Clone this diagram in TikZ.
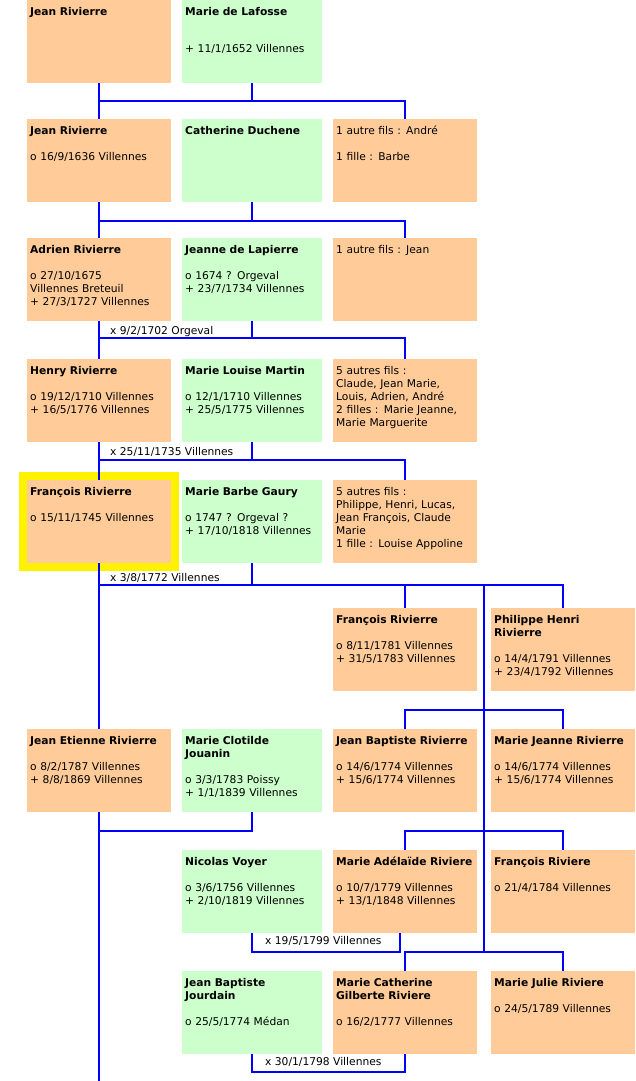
\documentclass[tikz,border=0pt]{standalone}
\usepackage{fontspec}
\setmainfont{DejaVu Sans}
\definecolor{kinc}{RGB}{255,204,153}
\definecolor{spousec}{RGB}{204,255,204}
\definecolor{linkc}{RGB}{0,0,255}

\begin{document}
\begin{tikzpicture}[x=1pt,y=-1pt,
   person/.style={anchor=north west,inner xsep=3pt,inner ysep=4pt,text width=138pt,
      text height=11pt,text depth=64pt,align=left,font=\fontsize{10.7}{13}\selectfont},
   kin/.style={person,fill=kinc},
   spouse/.style={person,fill=spousec,text width=134pt},
   link/.style={draw=linkc,line width=2.5pt},
   wed/.style={anchor=base west,inner sep=0pt,font=\fontsize{10.7}{13}\selectfont}]

   \useasboundingbox (0,0) rectangle (635,1081);

   \node[kin] (jean1) at (27,0) {\textbf{Jean Rivierre}};
   \node[spouse] (marie1) at (182,0) {\textbf{Marie de Lafosse}\\[24pt]+ 11/1/1652 Villennes};

   \node[kin] (jean2) at (27,119) {\textbf{Jean Rivierre}\\[13pt]o 16/9/1636 Villennes};
   \node[spouse] (cath2) at (182,119) {\textbf{Catherine Duchene}};
   \node[kin] (sib2) at (333,119) {1 autre fils : André\\[13pt]1 fille : Barbe};

   \node[kin] (adrien) at (27,238) {\textbf{Adrien Rivierre}\\[13pt]o 27/10/1675\\Villennes Breteuil\\+ 27/3/1727 Villennes};
   \node[spouse] (jeanne) at (182,238) {\textbf{Jeanne de Lapierre}\\[13pt]o 1674 ? Orgeval\\+ 23/7/1734 Villennes};
   \node[kin] (sib3) at (333,238) {1 autre fils : Jean};

   \node[kin] (henry) at (27,359) {\textbf{Henry Rivierre}\\[13pt]o 19/12/1710 Villennes\\+ 16/5/1776 Villennes};
   \node[spouse] (louise) at (182,359) {\textbf{Marie Louise Martin}\\[13pt]o 12/1/1710 Villennes\\+ 25/5/1775 Villennes};
   \node[kin] (sib4) at (333,359) {5 autres fils :\\Claude, Jean Marie,\\Louis, Adrien, André\\2 filles : Marie Jeanne,\\Marie Marguerite};

   \node[kin] (francois) at (27,480) {\textbf{François Rivierre}\\[13pt]o 15/11/1745 Villennes};
   \node[spouse] (barbe) at (182,480) {\textbf{Marie Barbe Gaury}\\[13pt]o 1747 ? Orgeval ?\\+ 17/10/1818 Villennes};
   \node[kin] (sib5) at (333,480) {5 autres fils :\\Philippe, Henri, Lucas,\\Jean François, Claude\\Marie\\1 fille : Louise Appoline};

   \node[kin] (francois6) at (333,608) {\textbf{François Rivierre}\\[13pt]o 8/11/1781 Villennes\\+ 31/5/1783 Villennes};
   \node[kin] (philippe) at (491,608) {\textbf{Philippe Henri}\\\textbf{Rivierre}\\[13pt]o 14/4/1791 Villennes\\+ 23/4/1792 Villennes};

   \node[kin] (etienne) at (27,729) {\textbf{Jean Etienne Rivierre}\\[13pt]o 8/2/1787 Villennes\\+ 8/8/1869 Villennes};
   \node[spouse] (clotilde) at (182,729) {\textbf{Marie Clotilde}\\\textbf{Jouanin}\\[13pt]o 3/3/1783 Poissy\\+ 1/1/1839 Villennes};
   \node[kin] (jbaptiste) at (333,729) {\textbf{Jean Baptiste Rivierre}\\[13pt]o 14/6/1774 Villennes\\+ 15/6/1774 Villennes};
   \node[kin] (mjeanne) at (491,729) {\textbf{Marie Jeanne Rivierre}\\[13pt]o 14/6/1774 Villennes\\+ 15/6/1774 Villennes};

   \node[spouse] (voyer) at (182,850) {\textbf{Nicolas Voyer}\\[13pt]o 3/6/1756 Villennes\\+ 2/10/1819 Villennes};
   \node[kin] (adelaide) at (333,850) {\textbf{Marie Adélaïde Riviere}\\[13pt]o 10/7/1779 Villennes\\+ 13/1/1848 Villennes};
   \node[kin] (francois8) at (491,850) {\textbf{François Riviere}\\[13pt]o 21/4/1784 Villennes};

   \node[spouse] (jourdain) at (182,971) {\textbf{Jean Baptiste}\\\textbf{Jourdain}\\[13pt]o 25/5/1774 Médan};
   \node[kin] (catherine) at (333,971) {\textbf{Marie Catherine}\\\textbf{Gilberte Riviere}\\[13pt]o 16/2/1777 Villennes};
   \node[kin] (julie) at (491,971) {\textbf{Marie Julie Riviere}\\[13pt]o 24/5/1789 Villennes};

   \draw[yellow,line width=8pt] ([xshift=-4pt,yshift=4pt]francois.north west) rectangle ([xshift=3.5pt,yshift=-4pt]francois.south east);

   \node[wed] (wed3) at (110,334) {x 9/2/1702 Orgeval};
   \node[wed] (wed4) at (110,455) {x 25/11/1735 Villennes};
   \node[wed] (wed5) at (110,581) {x 3/8/1772 Villennes};
   \node[wed] (wed8) at (265,944) {x 19/5/1799 Villennes};
   \node[wed] (wed9) at (265,1065) {x 30/1/1798 Villennes};

   \coordinate (fam1) at (0,101);
   \coordinate (fam2) at (0,221);
   \coordinate (fam3) at (0,338);
   \coordinate (fam4) at (0,460);
   \coordinate (fam5) at (0,585);
   \coordinate (trunk) at (484,585);
   \coordinate (sub7) at (484,710);
   \coordinate (sub8) at (484,831);
   \coordinate (sub9) at (484,952);
   \coordinate (low9) at (0,1072);
   \coordinate (foot) at (0,1081);

   \draw[link] (jean1.south) -- (jean2.north);
   \draw[link] (marie1.south) -- (marie1.south |- fam1);
   \draw[link] (jean1.south |- fam1) -- (sib2.north |- fam1) -- (sib2.north);

   \draw[link] (jean2.south) -- (adrien.north);
   \draw[link] (cath2.south) -- (cath2.south |- fam2);
   \draw[link] (jean2.south |- fam2) -- (sib3.north |- fam2) -- (sib3.north);

   \draw[link] (adrien.south) -- (henry.north);
   \draw[link] (jeanne.south) -- (jeanne.south |- fam3);
   \draw[link] (henry.north |- fam3) -- (sib4.north |- fam3) -- (sib4.north);

   \draw[link] (henry.south) -- (francois.north);
   \draw[link] (louise.south) -- (louise.south |- fam4);
   \draw[link] (henry.south |- fam4) -- (sib5.north |- fam4) -- (sib5.north);

   \draw[link] (francois.south) -- (etienne.north);
   \draw[link] (barbe.south) -- (barbe.south |- fam5);
   \draw[link] (francois.south |- fam5) -- (philippe.north |- fam5) -- (philippe.north);
   \draw[link] (francois6.north |- fam5) -- (francois6.north);
   \draw[link] (trunk) -- (sub9);
   \draw[link] (jbaptiste.north) -- (jbaptiste.north |- sub7) -- (mjeanne.north |- sub7) -- (mjeanne.north);
   \draw[link] (adelaide.north) -- (adelaide.north |- sub8) -- (francois8.north |- sub8) -- (francois8.north);
   \draw[link] (catherine.north) -- (catherine.north |- sub9) -- (julie.north |- sub9) -- (julie.north);

   \draw[link] (etienne.south) -- (etienne.south |- foot);
   \draw[link] (clotilde.south) -- (clotilde.south |- sub8) -- (etienne.south |- sub8);
   \draw[link] (voyer.south) -- (voyer.south |- sub9) -- ([xshift=-5pt]adelaide.south |- sub9) -- ([xshift=-5pt]adelaide.south);
   \draw[link] (jourdain.south) -- (jourdain.south |- low9) -- (catherine.south |- low9) -- (catherine.south);

\end{tikzpicture}
\end{document}
